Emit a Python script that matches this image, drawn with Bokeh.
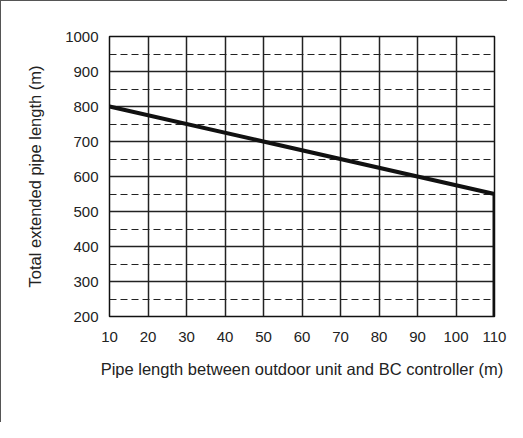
from bokeh.plotting import figure
from bokeh.models import Range1d, FixedTicker
from bokeh.embed import file_html
from bokeh.resources import INLINE

# Data
pipe_length = [10, 110, 110]          # Pipe length between outdoor unit and BC controller (m)
total_length = [800, 550, 200]        # Total extended pipe length (m)
x_ticks = [10, 20, 30, 40, 50, 60, 70, 80, 90, 100, 110]
y_ticks = [200, 300, 400, 500, 600, 700, 800, 900, 1000]
y_minor = [250, 350, 450, 550, 650, 750, 850, 950]

FONT = "Liberation Sans"
TXT = "#222222"

p = figure(width=507, height=422, output_backend="svg", toolbar_location=None,
           x_range=Range1d(10, 110), y_range=Range1d(200, 1000),
           min_border_left=108, min_border_right=14,
           min_border_top=35, min_border_bottom=107)

p.styles = {"border-top": "1.5px solid #555555", "border-left": "1.5px solid #555555"}

p.outline_line_color = "#111111"
p.outline_line_width = 1.5
p.outline_line_alpha = 1.0

p.xaxis.ticker = FixedTicker(ticks=x_ticks)
p.yaxis.ticker = FixedTicker(ticks=y_ticks, minor_ticks=y_minor)

for ax in (p.xaxis[0], p.yaxis[0]):
    ax.axis_line_color = None
    ax.major_tick_line_color = None
    ax.minor_tick_line_color = None
    ax.major_label_text_font = FONT
    ax.major_label_text_font_size = "15px"
    ax.major_label_text_color = TXT
    ax.axis_label_text_font = FONT
    ax.axis_label_text_font_size = "16.5px"
    ax.axis_label_text_font_style = "normal"
    ax.axis_label_text_color = TXT

p.xaxis.axis_label = "Pipe length between outdoor unit and BC controller (m)"
p.yaxis.axis_label = "Total extended pipe length (m)"
p.xaxis.major_label_standoff = 9
p.yaxis.major_label_standoff = 5
p.xaxis.axis_label_standoff = 15
p.yaxis.axis_label_standoff = 18

p.xgrid.ticker = FixedTicker(ticks=x_ticks)
p.xgrid.grid_line_color = "#222222"
p.xgrid.grid_line_width = 1.5

p.ygrid.grid_line_color = "#222222"
p.ygrid.grid_line_width = 1.5
p.ygrid.minor_grid_line_color = "#222222"
p.ygrid.minor_grid_line_width = 1.2
p.ygrid.minor_grid_line_dash = "7 4"

p.line(pipe_length, total_length, line_color="#111111", line_width=4)

open("out.html", "w").write(file_html(p, INLINE))
